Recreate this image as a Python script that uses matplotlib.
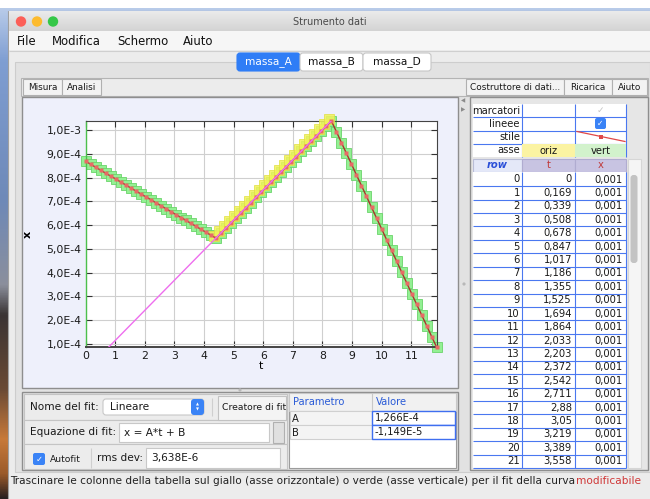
import numpy as np
import matplotlib.pyplot as plt
from matplotlib.patches import Rectangle, FancyBboxPatch, Circle
from matplotlib.ticker import MultipleLocator, FuncFormatter
from matplotlib.transforms import ScaledTranslation

plt.rcParams['font.family'] = ['DejaVu Sans']

W, H = 650, 499

# time (s) and position (1e-4 m) of the tracked mass
t = [0, 0.169, 0.339, 0.508, 0.678, 0.847, 1.017, 1.186, 1.355, 1.525,
     1.694, 1.864, 2.033, 2.203, 2.372, 2.542, 2.711, 2.88, 3.05, 3.219,
     3.389, 3.558, 3.728, 3.897, 4.067, 4.236, 4.406, 4.575, 4.745, 4.914,
     5.084, 5.253, 5.422, 5.592, 5.761, 5.931, 6.100, 6.270, 6.439, 6.609,
     6.778, 6.947, 7.117, 7.286, 7.456, 7.625, 7.795, 7.964, 8.134, 8.303,
     8.473, 8.642, 8.811, 8.981, 9.150, 9.320, 9.489, 9.659, 9.828, 9.998,
     10.167, 10.336, 10.506, 10.675, 10.845, 11.014, 11.184, 11.353, 11.523, 11.692,
     11.862]
x_e4 = [8.68, 8.56, 8.43, 8.31, 8.18, 8.06, 7.94, 7.81, 7.69, 7.56,
        7.44, 7.31, 7.19, 7.07, 6.94, 6.82, 6.69, 6.57, 6.44, 6.32,
        6.20, 6.07, 5.95, 5.82, 5.70, 5.57, 5.45, 5.66, 5.88, 6.09,
        6.31, 6.52, 6.74, 6.95, 7.17, 7.38, 7.60, 7.81, 8.02, 8.24,
        8.45, 8.67, 8.88, 9.10, 9.31, 9.53, 9.74, 9.95, 10.17, 10.38,
        9.93, 9.47, 9.02, 8.57, 8.11, 7.66, 7.21, 6.75, 6.30, 5.85,
        5.39, 4.94, 4.49, 4.03, 3.58, 3.12, 2.67, 2.22, 1.77, 1.31,
        0.86]

# rows used by the linear fit and its result
fit_rows = (26, 49)
fit_A = 1.266e-4
fit_B = -1.149e-5
rms_dev = 3.638e-6

tab_names = ['massa_A', 'massa_B', 'massa_D']
menu_items = ['File', 'Modifica', 'Schermo', 'Aiuto']
table_rows = 22

t = np.array(t)
x = np.array(x_e4) * 1e-4


def sci(v, d):
    m, e = f'{v:.{d}E}'.split('E')
    return f'{m}E{int(e)}'.replace('.', ',')


def dec(v):
    s = f'{v:.3f}'.rstrip('0').rstrip('.')
    return s.replace('.', ',')


fig = plt.figure(figsize=(W / 100, H / 100), dpi=100)
bg = fig.add_axes([0, 0, 1, 1])
bg.set_xlim(0, W)
bg.set_ylim(H, 0)
bg.axis('off')


def box(x0, y0, x1, y1, fc, ec='none', lw=0.8, z=1):
    bg.add_patch(Rectangle((x0, y0), x1 - x0, y1 - y0, facecolor=fc,
                           edgecolor=ec, linewidth=lw, zorder=z))


def rbox(x0, y0, x1, y1, fc, ec='none', lw=0.8, r=3, z=1):
    bg.add_patch(FancyBboxPatch((x0, y0), x1 - x0, y1 - y0,
                                boxstyle=f'round,pad=0,rounding_size={r}',
                                facecolor=fc, edgecolor=ec, linewidth=lw,
                                zorder=z))


def label(x0, y0, s, size=7.5, color='#1a1a1a', ha='left', z=5, **kw):
    return bg.text(x0, y0, s, fontsize=size, color=color, ha=ha, va='center',
                   zorder=z, **kw)


def hline(y0, x0, x1, color, lw=0.8, z=3):
    bg.plot([x0, x1], [y0, y0], color=color, lw=lw, zorder=z,
            solid_capstyle='butt')


def vline(x0, y0, y1, color, lw=0.8, z=3):
    bg.plot([x0, x0], [y0, y1], color=color, lw=lw, zorder=z,
            solid_capstyle='butt')


# desktop behind the window
stops_y = [8, 60, 200, 285, 315, 390, 440, 475, 499]
stops_c = ['#b8cbe9', '#7f9ed2', '#6e89b8', '#8b8f9c', '#3a3434',
           '#6a4a35', '#c87a3a', '#9a5a2a', '#2a2020']
ys = np.linspace(8, 499, 200)
rgb = np.array([[int(c[i:i + 2], 16) / 255 for i in (1, 3, 5)] for c in stops_c])
grad = np.stack([np.interp(ys, stops_y, rgb[:, k]) for k in range(3)], axis=1)
bg.imshow(grad[:, None, :], extent=(0, W, 499, 8), aspect='auto', zorder=0)

# window frame, title bar and menu
box(8, 11, W + 1, H + 1, '#ececec', '#a0a0a0', z=1)
ys = np.linspace(0, 1, 20)
tb = np.stack([np.interp(ys, [0, 1], [0.92, 0.83])] * 3, axis=1)
bg.imshow(tb[:, None, :], extent=(8.5, W, 31, 11.5), aspect='auto', zorder=1.5)
for cx, c in zip((21, 37, 53), ('#fc5f57', '#fdbb2e', '#35c748')):
    bg.add_patch(Circle((cx, 21.5), 5.2, facecolor=c, edgecolor='none', zorder=2))
label(330, 21.5, 'Strumento dati', size=7, color='#4a4a4a', ha='center')
box(8.5, 31, W, 50, '#f6f6f6', z=1.6)
hline(50.5, 8.5, W, '#cfcfcf')
mx = 17
for m in menu_items:
    bg.text(mx, 41, m, fontsize=8.4, color='#111111', va='center', zorder=5)
    mx += {'File': 35, 'Modifica': 65, 'Schermo': 66, 'Aiuto': 40}[m]

# tab group
box(15, 62, W, 472, '#e2e2e2', '#cdcdcd', z=1.7)
tab_x = [237, 300, 363, 431]
for i, name in enumerate(tab_names):
    sel = i == 0
    rbox(tab_x[i], 53, tab_x[i + 1], 71, '#2f7df6' if sel else '#ffffff',
         '#2f7df6' if sel else '#c6c6c6', r=3, z=3)
    label((tab_x[i] + tab_x[i + 1]) / 2, 62, name, size=7.6,
          color='white' if sel else '#111111', ha='center')

# toolbar
box(21, 78, 648, 96, '#ececec', '#b4b4b4', z=2)
for x0, x1, s in [(23, 62, 'Misura'), (62, 101, 'Analisi'),
                  (466, 564, 'Costruttore di dati...'), (564, 612, 'Ricarica'),
                  (612, 647, 'Aiuto')]:
    box(x0, 79, x1, 95, '#f3f3f3', '#b0b0b0', z=3)
    label((x0 + x1) / 2, 87, s, size=6.4, ha='center')

# plot panel
box(22, 97, 458, 388, '#eef0fb', '#8e8e8e', lw=1, z=2)
bg.add_patch(Circle((240, 390), 1.6, facecolor='#b8b8b8', zorder=3))
bg.add_patch(Circle((464, 284), 1.6, facecolor='#b8b8b8', zorder=3))
label(463, 101, '◀', size=4, color='#8a8a8a', ha='center')
label(463, 110, '▶', size=4, color='#8a8a8a', ha='center')

# fit panel
box(22, 392, 458, 470, '#e4e4e4', '#8e8e8e', lw=1, z=2)
for y0, y1 in [(394, 420), (420, 444), (444, 469)]:
    box(24, y0, 287, y1, '#ececec', '#c4c4c4', z=3)
label(30, 407, 'Nome del fit:', size=7.6)
rbox(103, 399, 204, 415, 'white', '#c8c8c8', r=3, z=4)
label(110, 407, 'Lineare', size=7.6)
rbox(191, 399, 204, 415, '#3a83f6', r=3, z=5)
label(197.5, 404.5, '▲', size=2.8, color='white', ha='center', z=6)
label(197.5, 409.5, '▼', size=2.8, color='white', ha='center', z=6)
vline(212, 398, 416, '#cfcfcf', lw=0.8, z=4)
box(218, 396, 286, 420, '#f4f4f4', '#c2c2c2', z=4)
label(222, 408, 'Creatore di fit', size=6.7)
label(30, 432, 'Equazione di fit:', size=7.6)
box(119, 423, 269, 442, 'white', '#c8c8c8', z=4)
label(124, 432.5, 'x = A*t + B', size=7.6)
box(273, 422, 284, 443, '#e0e0e0', '#b0b0b0', z=4)
rbox(33, 453, 45, 465, '#3a83f6', r=2, z=4)
label(39, 459, '✓', size=6, color='white', ha='center', z=6)
label(50, 459, 'Autofit', size=6.6)
vline(91, 448, 468, '#cfcfcf', z=4)
label(97, 458, 'rms dev:', size=7.6)
box(146, 448, 280, 468, 'white', '#c8c8c8', z=4)
label(151, 458, sci(rms_dev, 3), size=7.6)

# fit parameter table
box(289, 393, 456, 468, 'white', '#9c9c9c', z=3)
box(289, 393, 456, 411, '#f1f1f1', '#c8c8c8', z=4)
vline(372, 393, 411, '#c8c8c8', z=5)
label(293, 402, 'Parametro', size=7.2, color='#2a5bd7')
label(376, 402, 'Valore', size=7.2, color='#2a5bd7')
for k, (p, v) in enumerate([('A', fit_A), ('B', fit_B)]):
    y0 = 411 + k * 14
    box(289.5, y0, 372, y0 + 14, '#f4f4f4', '#d0d0d0', z=4)
    box(372, y0, 455, y0 + 14, 'white', '#3f6ff0', lw=1, z=5)
    label(292, y0 + 7.5, p, size=7.2)
    label(375, y0 + 7.5, sci(v, 3), size=7.2)

# right-hand data panel
box(470, 97, 648, 470, '#e6e6e6', '#8e8e8e', lw=1, z=2)
box(473, 104, 626, 157, 'white', z=3)
blue = '#4a78f0'
props = ['marcatori', 'lineee', 'stile', 'asse']
for k, p in enumerate(props):
    y0 = 104 + k * 13.25
    label(520, y0 + 6.6, p, size=7.2, ha='right')
    if k:
        hline(y0, 473, 626, blue)
box(522, 143.75, 575, 157, '#fbf3a2', z=3.5)
box(575, 143.75, 626, 157, '#d2f2cc', z=3.5)
label(548.5, 150.5, 'oriz', size=7.2, ha='center')
label(600.5, 150.5, 'vert', size=7.2, ha='center')
label(600.5, 110.6, '✓', size=6.5, color='#c4c4c4', ha='center')
rbox(595, 118, 606, 129, '#3a83f6', r=2, z=4)
label(600.5, 123.6, '✓', size=5.5, color='white', ha='center', z=6)
bg.plot([577, 625], [131.5, 141.5], color='#e04848', lw=0.9, zorder=4)
box(599, 134.5, 603, 138.5, '#e04848', z=4)
for xv in (522, 575, 626):
    vline(xv, 104, 157, blue)

# data table
box(473, 159, 522, 172, '#e4e8f8', '#b9bdd6', z=3)
box(522, 159, 575, 172, '#c8c4e2', '#b0acd0', z=3)
box(575, 159, 626, 172, '#c8c4e2', '#b0acd0', z=3)
label(497.5, 165.5, 'row', size=7.2, color='#2a4fd8', ha='center',
      style='italic', weight='bold')
label(548.5, 165.5, 't', size=7.2, color='#c03a3a', ha='center')
label(600.5, 165.5, 'x', size=7.2, color='#c03a3a', ha='center')
rh = 13.42
box(473, 172, 626, 468, 'white', z=3)
for i in range(table_rows):
    yc = 179.5 + i * rh
    label(520, yc, str(i), size=7.2, ha='right')
    label(572, yc, dec(t[i]), size=7.2, ha='right')
    label(623, yc, dec(x[i]), size=7.2, ha='right')
    hline(yc + rh / 2, 473, 626, blue)
for xv in (522, 575, 626):
    vline(xv, 172, 468, blue)
box(628, 159, 641, 468, '#f5f5f5', '#d6d6d6', z=3)
rbox(630.5, 175, 637.5, 263, '#c3c3c3', r=3, z=4)

# status bar
status = ('Trascinare le colonne della tabella sul giallo (asse orizzontale) '
          'o verde (asse verticale) per il fit della curva')
st = label(10, 481, status, size=7.6, color='#222222')
fig.canvas.draw()
bb = st.get_window_extent().transformed(bg.transData.inverted())
label(bb.x1 + 0.5, 481, 'modificabile', size=7.6, color='#d03838')

# the x(t) graph
ax = fig.add_axes([85.7 / W, 1 - 347.3 / H, (436.7 - 85.7) / W, (347.3 - 121) / H])
ax.set_zorder(10)
ax.set_facecolor('white')
i0, i1 = fit_rows
shift = ScaledTranslation(-1.4 / 72, 1.4 / 72, fig.dpi_scale_trans)
ax.plot(t, x, 's', ms=7.4, mfc='#93f093', mec='#6ad46a', mew=0.6, zorder=2,
        clip_on=False)
ax.plot(t[i0:i1 + 1], x[i0:i1 + 1], 's', ms=7.4, mfc='#f2f25a', mec='#e0e040',
        mew=0.6, alpha=0.85, zorder=3, transform=ax.transData + shift,
        clip_on=False)
ax.plot(t, x, '-', color='#a8342c', lw=1.0, zorder=4, clip_on=False)
ax.plot(t, x, 's', ms=3.2, mfc='#e86a66', mec='none', zorder=5, clip_on=False)
tf = np.array([0, t[i1]])
ax.plot(tf, fit_A * tf + fit_B, color='#ee6eee', lw=1, zorder=6)

ax.set_xlim(t[0], t[-1])
ax.set_ylim(x.min(), x.max())
ax.xaxis.set_major_locator(MultipleLocator(1))
ax.yaxis.set_major_locator(MultipleLocator(1e-4))
ax.yaxis.set_major_formatter(FuncFormatter(lambda v, p: sci(v, 1)))
ax.grid(True, color='#cfcfcf', lw=0.8, zorder=0)
ax.set_axisbelow(True)
ax.tick_params(direction='in', length=4, width=0.8, color='#333333',
               labelsize=7.8, labelcolor='#1a1a1a', top=True, right=True, pad=3)
for side in ('top', 'right', 'bottom'):
    ax.spines[side].set_color('#444444')
ax.spines['bottom'].set_linewidth(1.4)
ax.spines['left'].set_color('#4cc04c')
ax.spines['left'].set_linewidth(1)
ax.set_xlabel('t', fontsize=8, labelpad=0)
ax.set_ylabel('x', fontsize=8, weight='bold', labelpad=10)

fig.savefig('out.png', dpi=100)
